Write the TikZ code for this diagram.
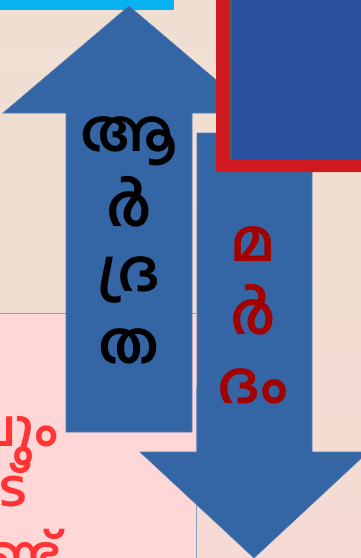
\documentclass[tikz,border=0pt]{standalone}
\usepackage{fontspec}
\newfontfamily\mal[Script=Malayalam]{Hind Kochi}
\definecolor{bgtop}{HTML}{EFDFD2}
\definecolor{bgbot}{HTML}{F5DBD3}
\definecolor{cyanbar}{HTML}{08B2F0}
\definecolor{arrowblue}{HTML}{3465A4}
\definecolor{framered}{HTML}{D0191F}
\definecolor{picblue}{HTML}{2B52A0}
\definecolor{pinkbox}{HTML}{FFD7D7}
\definecolor{pinkedge}{HTML}{8E9FC6}
\definecolor{darkred}{HTML}{A30000}
\definecolor{brightred}{HTML}{FF3535}
\tikzset{
  arrowshape/.style={fill=arrowblue, draw=arrowblue!85!white, line width=0.6pt},
  bigglyph/.style={font=\mal\bfseries\fontsize{58}{58}\selectfont, inner sep=0pt},
  sideglyph/.style={font=\mal\bfseries\fontsize{50}{50}\selectfont, inner sep=0pt, text=brightred, anchor=base east},
}
\begin{document}
\begin{tikzpicture}[x=1pt,y=-1pt]
\useasboundingbox (0,0) rectangle (361,558);
\clip (0,0) rectangle (361,558);
% background
\shade[top color=bgtop, bottom color=bgbot] (0,0) rectangle (361,558);
% cyan bar
\fill[cyanbar] (0,0) rectangle (174,10);
% pink box
\fill[pinkbox] (-2,313) rectangle (196,562);
\draw[pinkedge, line width=0.8pt] (-2,313) -- (196,313);
\draw[pinkedge, line width=0.8pt] (196,387) -- (196,562);
% up arrow
\path[arrowshape] (66,432) -- (66,113) -- (3,113) -- (129,6) -- (255,113) -- (192,113) -- (192,432) -- cycle;
% down arrow
\path[arrowshape] (197,133) -- (312,133) -- (312,452) -- (368,452) -- (254,558) -- (140,452) -- (197,452) -- cycle;
% framed picture
\fill[framered, rounded corners=2pt] (216,-10) rectangle (370,172);
\fill[picblue] (230,-10) rectangle (370,160);
\fill[gray!70!black] (230,-10) rectangle (232,160);
% up arrow text
\node[bigglyph] (u1) at (129,141) {ആ};
\node[bigglyph] (u2) at (129,202) {ർ};
\node[bigglyph] (u3) at (129,280) {ദ്ര};
\node[bigglyph] (u4) at (129,346) {ത};
% down arrow text
\node[bigglyph, text=darkred] (d1) at (253,244) {മ};
\node[bigglyph, text=darkred] (d2) at (253,310) {ർ};
\node[bigglyph, text=darkred] (d3) at (253,386) {ദം};
% left red text (cut off at the left edge, as in the reference)
\node[sideglyph] (l1) at (58,446) {താപവും};
\node[sideglyph] (l2) at (28,506) {ചൂട്};
\node[sideglyph] (l3) at (62,572) {ഉണ്ട്};
\end{tikzpicture}
\end{document}
